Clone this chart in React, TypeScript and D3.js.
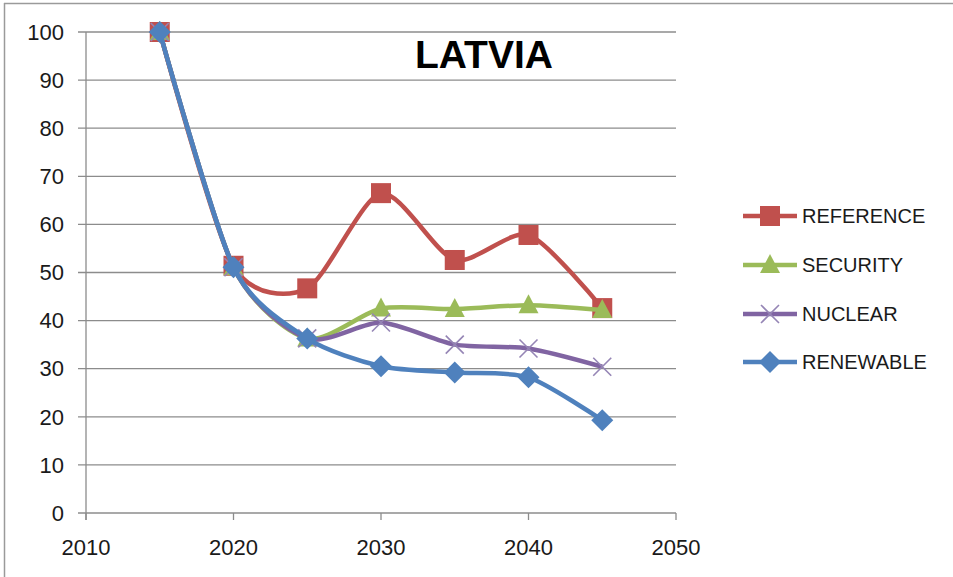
import React from "react";
import * as d3 from "d3";

// Emission index by scenario (2015 = 100)
const years = [2015, 2020, 2025, 2030, 2035, 2040, 2045];
const reference = [100, 51.4, 46.7, 66.5, 52.6, 57.8, 42.6];
const security = [100, 51.1, 36.3, 42.5, 42.4, 43.2, 42.2];
const nuclear = [100, 51.1, 36.3, 39.6, 35.0, 34.2, 30.4];
const renewable = [100, 51.1, 36.3, 30.5, 29.2, 28.2, 19.3];

const yTicks = [0, 10, 20, 30, 40, 50, 60, 70, 80, 90, 100];
const xTicks = [2010, 2020, 2030, 2040, 2050];

type Marker = "square" | "triangle" | "cross" | "diamond";

const seriesList: { name: string; values: number[]; color: string; marker: Marker }[] = [
  { name: "REFERENCE", values: reference, color: "#C0504D", marker: "square" },
  { name: "SECURITY", values: security, color: "#9BBB59", marker: "triangle" },
  { name: "NUCLEAR", values: nuclear, color: "#8064A2", marker: "cross" },
  { name: "RENEWABLE", values: renewable, color: "#4F81BD", marker: "diamond" },
];

const W = 953;
const H = 577;
const FONT = "'Liberation Sans', Arial, sans-serif";

function MarkerShape({ kind, x, y, color }: { kind: Marker; x: number; y: number; color: string }) {
  if (kind === "square") {
    return <rect x={x - 10} y={y - 10} width={20} height={20} fill={color} />;
  }
  if (kind === "triangle") {
    return <path d={`M${x},${y - 11} L${x + 10},${y + 8} L${x - 10},${y + 8} Z`} fill={color} />;
  }
  if (kind === "cross") {
    return (
      <path
        d={`M${x - 9},${y - 9} L${x + 9},${y + 9} M${x + 9},${y - 9} L${x - 9},${y + 9}`}
        stroke="#9585B5"
        strokeWidth={1.6}
        fill="none"
      />
    );
  }
  return <path d={`M${x},${y - 11} L${x + 11},${y} L${x},${y + 11} L${x - 11},${y} Z`} fill={color} />;
}

export default function App() {
  const x = d3.scaleLinear().domain([2010, 2050]).range([86, 676]);
  const y = d3.scaleLinear().domain([0, 100]).range([513, 32]);

  const line = d3
    .line<number>()
    .x((_, i) => x(years[i]))
    .y((v) => y(v))
    .curve(d3.curveCardinal.tension(0.25));

  const legendY = [216, 265, 314, 362];

  return (
    <svg
      width={W}
      height={H}
      style={{ position: "absolute", left: 0, top: 0, background: "#fff" }}
      fontFamily={FONT}
    >
      <rect width={W} height={H} fill="#fff" />
      {/* frame */}
      <line x1={4} x2={W} y1={3.5} y2={3.5} stroke="#9a9a9a" strokeWidth={1.5} />
      <line x1={4.5} x2={4.5} y1={3} y2={H} stroke="#9a9a9a" strokeWidth={1.5} />

      {/* horizontal grid and y ticks */}
      {yTicks.map((t) => (
        <g key={t}>
          <line x1={78} x2={676} y1={y(t)} y2={y(t)} stroke="#8c8c8c" strokeWidth={1.3} />
          <text x={64} y={y(t)} dy="0.35em" textAnchor="end" fontSize={22} fill="#1a1a1a">
            {t}
          </text>
        </g>
      ))}

      {/* axes */}
      <line x1={x(2010)} x2={x(2010)} y1={y(100)} y2={y(0) + 7} stroke="#8c8c8c" strokeWidth={1.3} />
      {xTicks.map((t) => (
        <g key={t}>
          <line x1={x(t)} x2={x(t)} y1={y(0)} y2={y(0) + 7} stroke="#8c8c8c" strokeWidth={1.3} />
          <text x={x(t)} y={555} textAnchor="middle" fontSize={22} fill="#1a1a1a">
            {t}
          </text>
        </g>
      ))}

      {/* series */}
      {seriesList.map((s) => (
        <g key={s.name}>
          <path d={line(s.values) ?? ""} fill="none" stroke={s.color} strokeWidth={4.5} strokeLinejoin="round" />
          {s.values.map((v, i) => (
            <MarkerShape key={i} kind={s.marker} x={x(years[i])} y={y(v)} color={s.color} />
          ))}
        </g>
      ))}

      {/* title */}
      <text x={484} y={68} textAnchor="middle" fontSize={39} fontWeight="bold" fill="#000">
        LATVIA
      </text>

      {/* legend */}
      {seriesList.map((s, i) => (
        <g key={s.name}>
          <line x1={743} x2={797} y1={legendY[i]} y2={legendY[i]} stroke={s.color} strokeWidth={4.5} />
          <MarkerShape kind={s.marker} x={770} y={legendY[i]} color={s.color} />
          <text x={802} y={legendY[i]} dy="0.36em" fontSize={20} fill="#1a1a1a">
            {s.name}
          </text>
        </g>
      ))}
    </svg>
  );
}
